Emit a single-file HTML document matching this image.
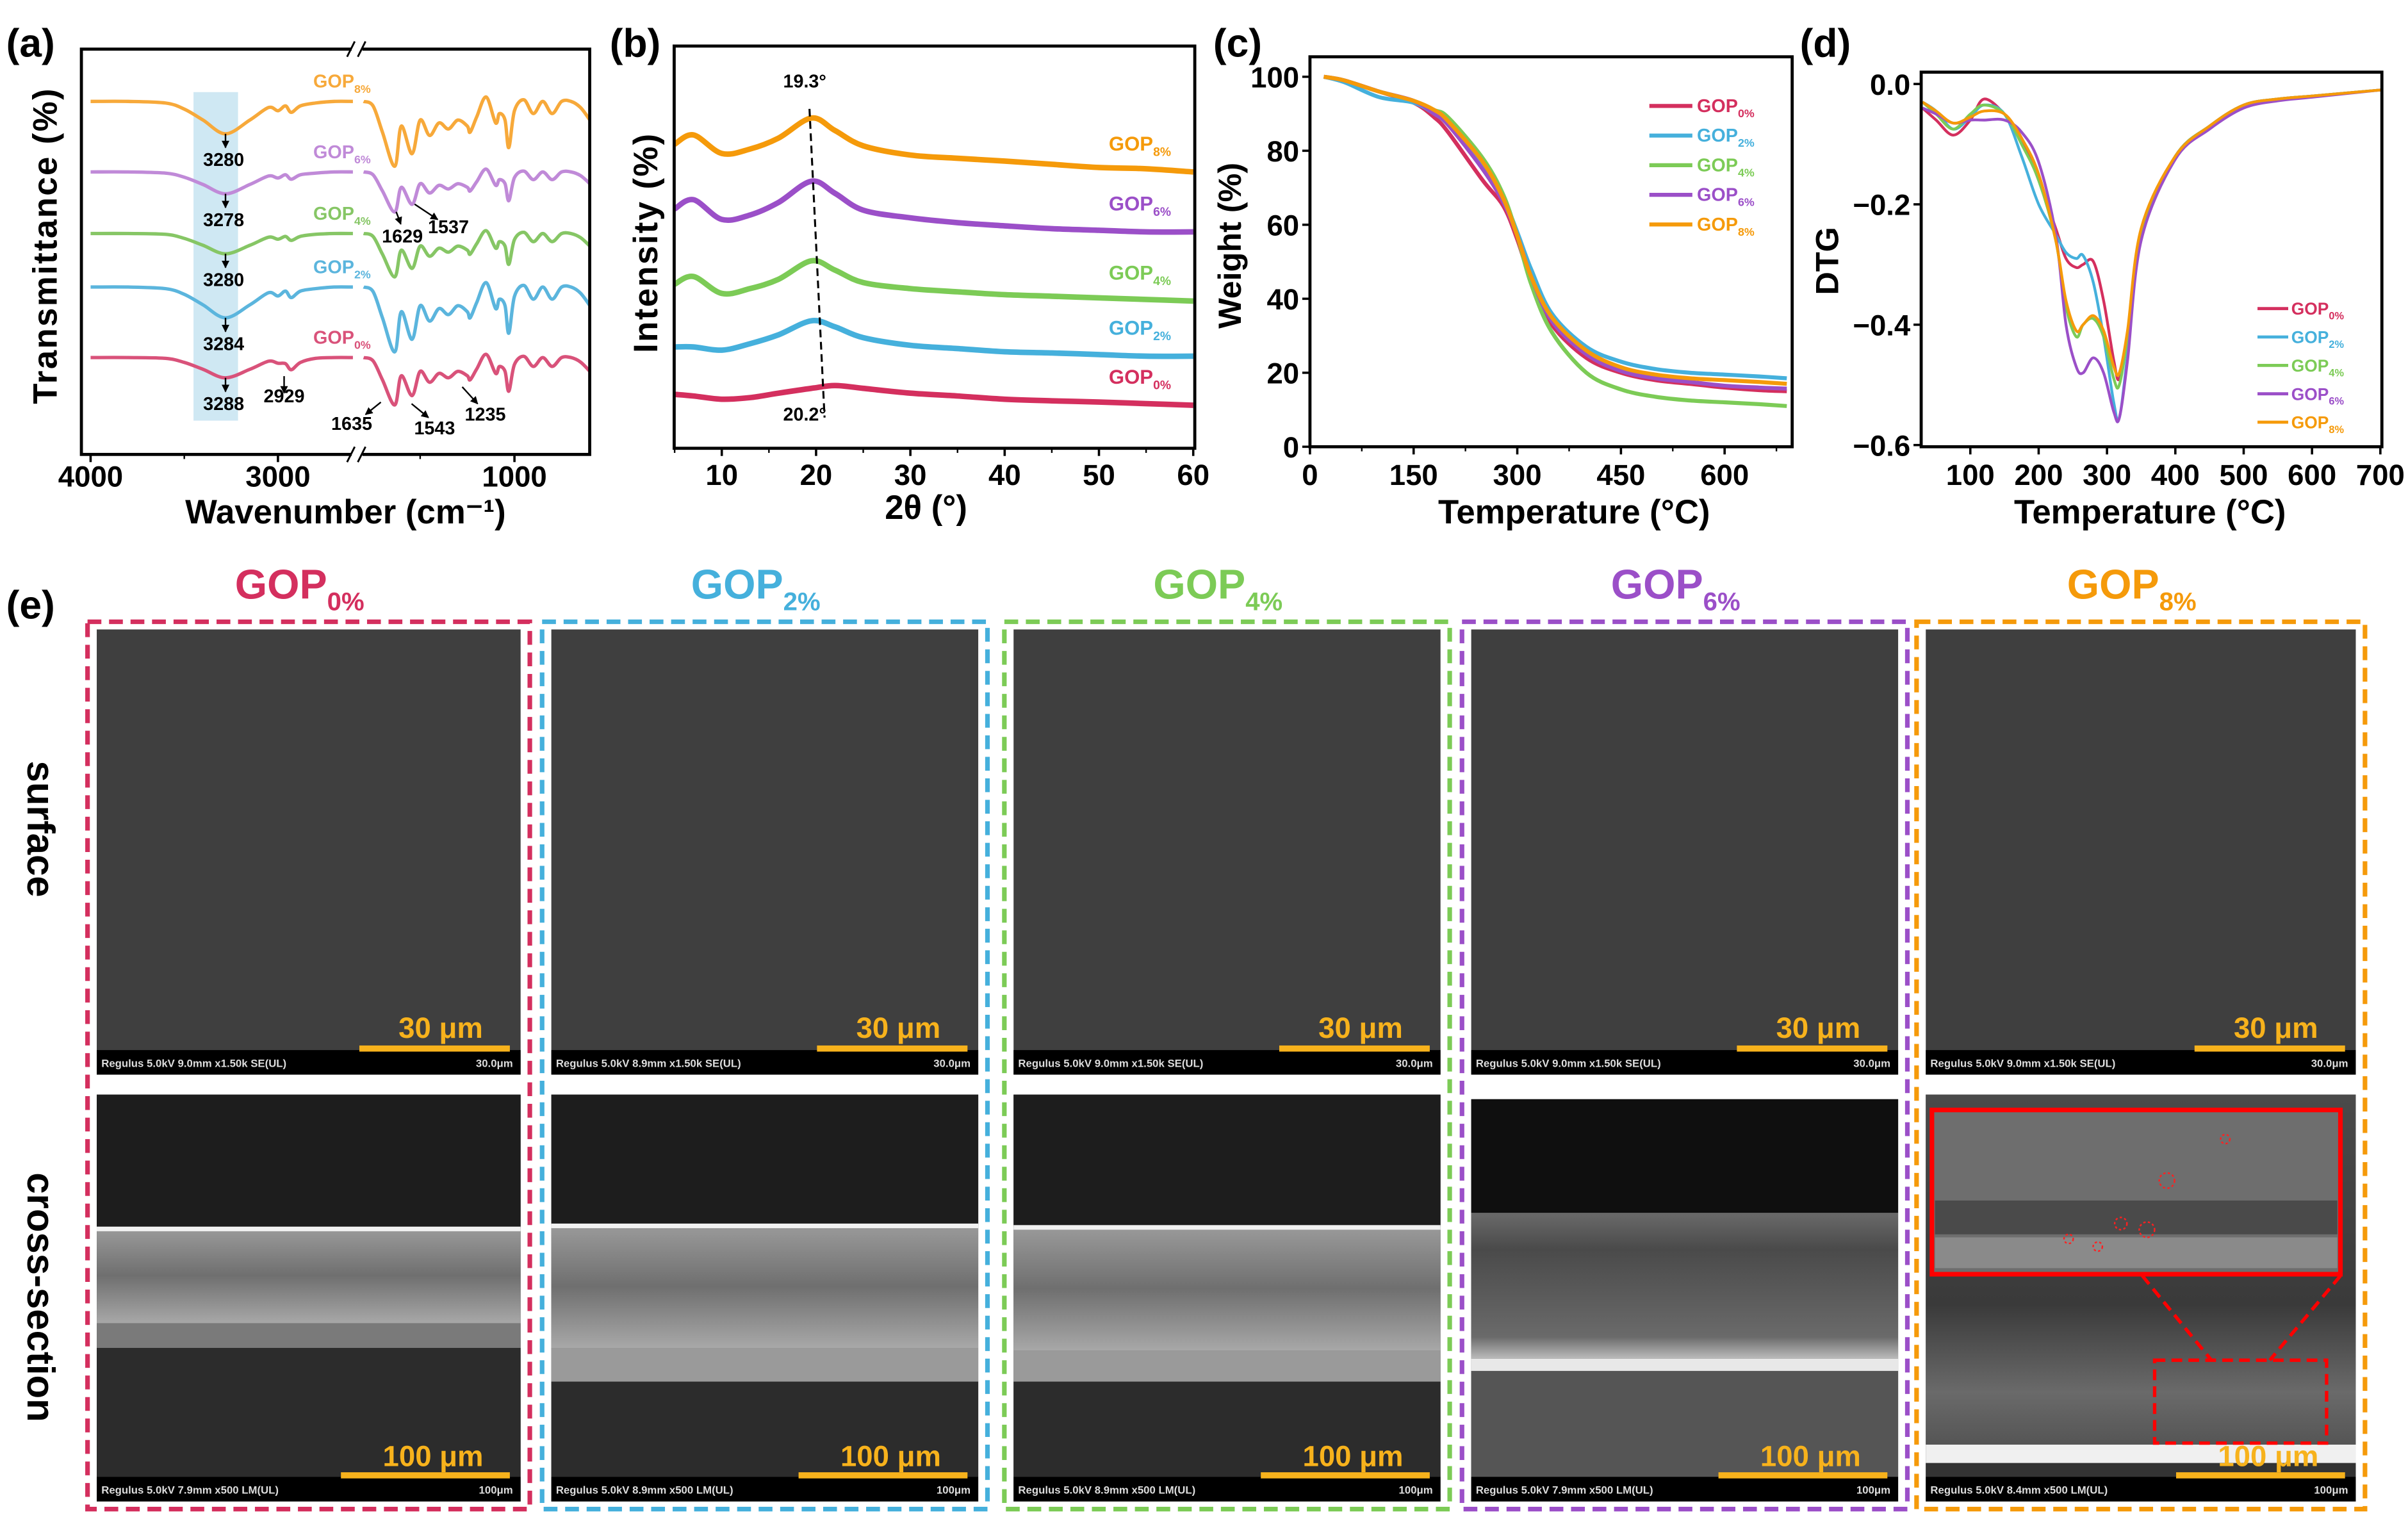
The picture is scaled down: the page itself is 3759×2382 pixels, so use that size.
<!DOCTYPE html>
<html><head><meta charset="utf-8">
<style>
html,body{margin:0;padding:0;background:#fff;}
svg{display:block;}
text{font-family:"Liberation Sans Narrow","Liberation Sans",sans-serif;font-weight:bold;}
</style></head>
<body>
<svg id="fig" xmlns="http://www.w3.org/2000/svg" width="3759" height="2382" viewBox="0 0 1568 994" preserveAspectRatio="none">
<defs>
<marker id="arr" viewBox="0 0 10 10" refX="9" refY="5" markerWidth="5" markerHeight="5" orient="auto"><path d="M0,0 L10,5 L0,10 z" fill="#000"/></marker>
<linearGradient id="film1" x1="0" y1="0" x2="0" y2="1"><stop offset="0" stop-color="#9a9a9a"/><stop offset="0.5" stop-color="#6f6f6f"/><stop offset="1" stop-color="#a8a8a8"/></linearGradient>
<linearGradient id="film4" x1="0" y1="0" x2="0" y2="1"><stop offset="0" stop-color="#6a6a6a"/><stop offset="0.25" stop-color="#4a4a4a"/><stop offset="0.85" stop-color="#6a6a6a"/><stop offset="1" stop-color="#bbbbbb"/></linearGradient>
<linearGradient id="film5" x1="0" y1="0" x2="0" y2="1"><stop offset="0" stop-color="#4a4a4a"/><stop offset="0.6" stop-color="#3a3a3a"/><stop offset="0.85" stop-color="#6a6a6a"/><stop offset="1" stop-color="#555"/></linearGradient>
</defs>
</svg>
<script>
// ---------- DATA ----------
const seriesNames = ["GOP0%","GOP2%","GOP4%","GOP6%","GOP8%"];
// FTIR (a)
const ftirLeftWn = [4000,3800,3600,3500,3400,3280,3150,3050,3000,2960,2929,2880,2800,2700,2600];
const ftirRightWn = [1800,1750,1700,1635,1600,1543,1500,1450,1400,1350,1300,1250,1235,1200,1150,1100,1080,1050,1030,1000,950,900,850,800,750,700,650,600];
const ftirOffsets = [23.9,41.3,54.5,69.7,87.1];
const ftirLeft0 = [0,0,0.2,1.2,2.9,5,2.9,0.9,1.4,1.5,3,1.2,0.2,0,0];
const ftirLeft2 = [0,0,0.4,1.8,4.4,7.6,4.4,1.4,2.2,1,2.6,1,0.4,0,0];
const ftirLeft4 = [0,0,0.2,1.2,2.9,5,2.9,0.9,1.4,0.7,1.7,0.7,0.2,0,0];
const ftirLeft6 = [0,0,0.3,1.3,3.1,5.4,3.1,1,1.5,0.7,1.8,0.7,0.3,0,0];
const ftirLeft8 = [0,0,0.4,1.9,4.6,8,4.6,1.5,2.3,1.1,2.7,1.1,0.4,0,0];
const ftirRight0 = [0,0.8,5.5,11.7,4.5,9.4,3.4,6.1,3.9,5,3.4,4.5,5.5,2.8,-0.8,3.9,2.2,3.4,8.3,1.7,-0.3,2.2,0,2.2,0,0,1.1,3.4];
const ftirRight2 = [0,1.1,7.6,16,6.1,12.9,4.6,8.4,5.3,6.8,4.6,6.1,7.6,3.8,-1.1,5.3,3,4.6,11.4,2.3,-0.4,3,0,3,0,0,1.5,4.6];
const ftirRight4 = [0,0.7,5.1,10.7,4.1,8.6,3.1,5.6,3.6,4.6,3.1,4.1,5.1,2.5,-0.7,3.6,2,3.1,7.6,1.5,-0.3,2,0,2,0,0,1,3.1];
const ftirRight6 = [0,0.7,4.7,9.9,3.8,8,2.9,5.2,3.3,4.2,2.9,3.8,4.7,2.4,-0.7,3.3,1.9,2.9,7.1,1.4,-0.2,1.9,0,1.9,0,0,0.9,2.9];
const ftirRight8 = [0,1.1,7.6,16,6.1,12.9,4.6,8.4,5.3,6.8,4.6,6.1,7.6,3.8,-1.1,5.3,3,4.6,11.4,2.3,-0.4,3,0,3,0,0,1.5,4.6];
const ftirPeakLabels = ["3288","3284","3280","3278","3280"];
const ftirTicks = ["4000","3000","1000"];
// XRD (b)
const xrdAngle = [5,7,10,13,16,19.5,22,25,30,35,40,45,50,55,60];
const xrd0 = [13.4,13.0,12.2,12.6,13.7,14.9,15.6,14.9,13.7,13.0,12.2,11.8,11.5,11.1,10.7];
const xrd2 = [25.2,25.2,24.4,26.0,28.2,31.7,30.2,27.5,25.6,24.8,24.0,23.7,23.3,22.9,22.9];
const xrd4 = [40.8,42.7,38.5,39.7,42.0,46.6,44.3,41.2,39.7,38.9,38.2,37.8,37.4,37.0,36.6];
const xrd6 = [59.5,61.8,56.9,58.0,61.1,66.4,63.4,59.2,57.3,56.1,55.3,54.6,54.2,53.8,53.8];
const xrd8 = [75.6,77.9,73.3,74.4,77.1,82.1,79.0,75.2,72.9,72.1,71.4,70.6,69.8,69.5,68.7];
const xrdTicks = [10,20,30,40,50,60];
// TGA (c)
const tgaTemp = [20,50,100,150,180,200,250,280,300,320,350,400,450,500,550,600,650,690];
const tga0 = [100,99,96,93,89,85,72,65,56,45,33,24,20,18,17,16,15.3,15];
const tga2 = [100,98.5,94.5,93,90,87,76,67,58,48,36,27,23,21,20,19.5,19,18.5];
const tga4 = [100,99,96,93.5,91,89,78,68,57,44,31,20,15.5,13.5,12.5,12,11.5,11];
const tga6 = [100,99,96,93.5,90,87,75,66,57,46,34,25,20.5,18.5,17.5,16.5,16,15.7];
const tga8 = [100,99,96,93.5,91,88,77,67,57,46,35,26,21.5,19.5,18.5,18,17.5,17];
const tgaXTicks = [0,150,300,450,600];
const tgaYTicks = [0,20,40,60,80,100];
// DTG (d)
const dtgTemp = [30,50,75,100,120,150,175,200,225,240,255,265,280,295,310,318,330,350,400,450,500,550,600,700];
const dtg0 = [-0.04,-0.06,-0.085,-0.06,-0.025,-0.05,-0.09,-0.16,-0.24,-0.29,-0.305,-0.30,-0.295,-0.36,-0.46,-0.49,-0.42,-0.25,-0.12,-0.07,-0.035,-0.025,-0.02,-0.01];
const dtg2 = [-0.03,-0.045,-0.075,-0.055,-0.035,-0.05,-0.12,-0.2,-0.25,-0.28,-0.29,-0.285,-0.33,-0.42,-0.53,-0.555,-0.45,-0.25,-0.12,-0.07,-0.035,-0.025,-0.02,-0.01];
const dtg4 = [-0.03,-0.05,-0.075,-0.05,-0.035,-0.05,-0.1,-0.16,-0.26,-0.37,-0.42,-0.40,-0.39,-0.42,-0.49,-0.5,-0.42,-0.25,-0.12,-0.07,-0.035,-0.025,-0.02,-0.01];
const dtg6 = [-0.04,-0.05,-0.065,-0.06,-0.06,-0.06,-0.08,-0.13,-0.25,-0.40,-0.47,-0.48,-0.455,-0.48,-0.545,-0.555,-0.46,-0.26,-0.125,-0.075,-0.04,-0.028,-0.022,-0.01];
const dtg8 = [-0.03,-0.045,-0.065,-0.055,-0.045,-0.05,-0.09,-0.15,-0.26,-0.36,-0.41,-0.40,-0.385,-0.41,-0.47,-0.48,-0.41,-0.24,-0.12,-0.07,-0.035,-0.025,-0.02,-0.01];
const dtgXTicks = [100,200,300,400,500,600,700];
const dtgYTicks = [0,-0.2,-0.4,-0.6];

// ---------- HELPERS ----------
const NS = "http://www.w3.org/2000/svg";
const svg = document.getElementById('fig');
function mk(tag, attrs, parent){ const e=document.createElementNS(NS,tag); for(const k in attrs) e.setAttribute(k,attrs[k]); (parent||svg).appendChild(e); return e; }
function txt(s,x,y,size,fill,anchor,parent){ const t=mk('text',{x:x,y:y,'font-size':size,fill:fill||'#000','text-anchor':anchor||'middle'},parent); t.textContent=s; return t; }
function smooth(pts){ let d='M'+pts[0][0].toFixed(2)+','+pts[0][1].toFixed(2);
  for(let i=0;i<pts.length-1;i++){ const p0=pts[Math.max(0,i-1)],p1=pts[i],p2=pts[i+1],p3=pts[Math.min(pts.length-1,i+2)];
    const c1=[p1[0]+(p2[0]-p0[0])/6,p1[1]+(p2[1]-p0[1])/6], c2=[p2[0]-(p3[0]-p1[0])/6,p2[1]-(p3[1]-p1[1])/6];
    d+=' C'+c1[0].toFixed(2)+','+c1[1].toFixed(2)+' '+c2[0].toFixed(2)+','+c2[1].toFixed(2)+' '+p2[0].toFixed(2)+','+p2[1].toFixed(2);} return d; }
function sublabel(base,sub,x,y,size,fill,parent){ const t=mk('text',{x:x,y:y,'font-size':size,fill:fill,'text-anchor':'start'},parent);
  const a=document.createElementNS(NS,'tspan'); a.textContent=base; t.appendChild(a);
  const b=document.createElementNS(NS,'tspan'); b.setAttribute('font-size',size*0.62); b.setAttribute('dy',size*0.28); b.textContent=sub; t.appendChild(b); return t; }

const colors = ["#d42f5e","#45b0dc","#7ccb56","#9b4fc8","#f59a0a"];
const ftirColors = ["#d9527a","#5bb5dd","#86c665","#c08ad8","#f7a93a"];
const subs = ["0%","2%","4%","6%","8%"];

// ---------- PANEL LABELS ----------
[["(a)",4,37],["(b)",397,37],["(c)",790,37],["(d)",1172,37],["(e)",4,403]].forEach(function(p){
  const t=txt(p[0],p[1],p[2],26,'#000','start');
  
  
});

// ---------- (a) FTIR ----------
(function(){
  const g=mk('g',{});
  
  
  const L=53,R=384,T=32,B=296;
  const xl=w=>59+(4000-w)*0.122, xr=w=>335+(1000-w)*0.1228, y=v=>B-v*2.64;
  const hl=mk('rect',{x:126,y:60,width:29,height:214,fill:'#cfe8f3'},g);
  
  
  const lefts=[ftirLeft0,ftirLeft2,ftirLeft4,ftirLeft6,ftirLeft8], rights=[ftirRight0,ftirRight2,ftirRight4,ftirRight6,ftirRight8];
  for(let s=0;s<5;s++){
    const pl=ftirLeftWn.map((w,i)=>[xl(w),y(ftirOffsets[s]-lefts[s][i])]);
    const pr=ftirRightWn.map((w,i)=>[xr(w),y(ftirOffsets[s]-rights[s][i])]);
    const a=mk('path',{d:smooth(pl),fill:'none',stroke:ftirColors[s],'stroke-width':2.2},g);
    
    
    const b=mk('path',{d:smooth(pr),fill:'none',stroke:ftirColors[s],'stroke-width':2.2},g);
    
    
    const dipY=y(ftirOffsets[s]-lefts[s][5]);
    const ar=mk('line',{x1:xl(3280),y1:dipY,x2:xl(3280),y2:dipY+9,stroke:'#000','stroke-width':1,'marker-end':'url(#arr)'},g);
    
    
    const pt=txt(ftirPeakLabels[s],xl(3290),dipY+21,12,'#000','middle',g);
    
    
    const gl=sublabel('GOP',subs[s],204,y(ftirOffsets[s])-9,12,ftirColors[s],g);
    
    
  }
  [["2929",185,262,185,245,185,256],["1635",229,280,248,262,238,270],["1543",283,283,268,263,279,272],["1235",316,274,301,252,311,263],["1629",262,158,258,138,261,146],["1537",292,152,270,133,285,143]].forEach(function(a){
    const l=mk('line',{x1:a[3],y1:a[4],x2:a[5],y2:a[6],stroke:'#000','stroke-width':1,'marker-end':'url(#arr)'},g);
    
    
    const t=txt(a[0],a[1],a[2],12,'#000','middle',g);
    
    
  });
  const fr=mk('rect',{x:L,y:T,width:R-L,height:B-T,fill:'none',stroke:'#000','stroke-width':2},g);
  
  
  [T,B].forEach(function(yy){
    const gap=mk('rect',{x:229,y:yy-3,width:7,height:6,fill:'#fff'},g);
    
    
    const m=mk('path',{d:'M226,'+(yy+5)+' L231,'+(yy-5)+' M233,'+(yy+5)+' L238,'+(yy-5),stroke:'#000','stroke-width':1.2,fill:'none'},g);
    
    
  });
  const tv=[4000,3000,1000];
  tv.forEach(function(w,i){
    const xx=w>2000?xl(w):xr(w);
    const tk=mk('line',{x1:xx,y1:B,x2:xx,y2:B+5,stroke:'#000','stroke-width':1.5},g);
    
    
    const t=txt(ftirTicks[i],xx,B+21,19,'#000','middle',g);
    
    
  });
  [3500,2500].forEach(function(w){ if(w>2574){ const m=mk('line',{x1:xl(w),y1:B,x2:xl(w),y2:B+3,stroke:'#000'},g);
    
    } });
  [1500,500].forEach(function(w){ const xx=xr(w); if(xx>238&&xx<R){ const m=mk('line',{x1:xx,y1:B,x2:xx,y2:B+3,stroke:'#000'},g);
    
    } });
  const xt=mk('text',{x:225,y:341,'font-size':22,'text-anchor':'middle'},g); xt.textContent='Wavenumber (cm⁻¹)';
  
  
  const yt=mk('text',{x:0,y:0,'font-size':22,'text-anchor':'middle',transform:'translate(37,160) rotate(-90)','font-family':'Liberation Sans,sans-serif','letter-spacing':'1'},g); yt.textContent='Transmittance (%)';
  
  
})();

// ---------- (b) XRD ----------
(function(){
  const g=mk('g',{});
  
  
  const L=439,R=778,T=30,B=292;
  const x=v=>470+(v-10)*6.14, y=v=>B-v*2.62;
  const sets=[xrd0,xrd2,xrd4,xrd6,xrd8];
  for(let s=0;s<5;s++){
    const p=mk('path',{d:smooth(xrdAngle.map((a,i)=>[x(a),y(sets[s][i])])),fill:'none',stroke:colors[s],'stroke-width':3.6,'stroke-linejoin':'round'},g);
    
    
    const gl=sublabel('GOP',subs[s],722,y(sets[s][14])-14,13,colors[s],g);
    
    
  }
  const dl=mk('line',{x1:x(19.3),y1:y(xrd8[5])-6,x2:x(20.9),y2:B-20,stroke:'#000','stroke-width':1.3,'stroke-dasharray':'5,3'},g);
  
  
  const t1=txt('19.3°',524,57,12,'#000','middle',g);
  
  
  const t2=txt('20.2°',524,274,12,'#000','middle',g);
  
  
  const fr=mk('rect',{x:L,y:T,width:R-L,height:B-T,fill:'none',stroke:'#000','stroke-width':2},g);
  
  
  xrdTicks.forEach(function(v){
    const tk=mk('line',{x1:x(v),y1:B,x2:x(v),y2:B+5,stroke:'#000','stroke-width':1.5},g);
    
    
    const t=txt(String(v),x(v),B+24,19,'#000','middle',g);
    
    
    const m=mk('line',{x1:x(v-5),y1:B,x2:x(v-5),y2:B+3,stroke:'#000'},g);
    
    
  });
  const xt=txt('2θ (°)',603,338,22,'#000','middle',g);
  
  
  const yt=mk('text',{x:0,y:0,'font-size':22,'text-anchor':'middle',transform:'translate(428,158) rotate(-90)','font-family':'Liberation Sans,sans-serif','letter-spacing':'1'},g); yt.textContent='Intensity (%)';
  
  
})();

// ---------- (c) TGA ----------
(function(){
  const g=mk('g',{});
  
  
  const L=853,R=1167,T=37,B=291;
  const x=v=>L+v*0.45, y=v=>B-v*2.41;
  const sets=[tga0,tga2,tga4,tga6,tga8];
  for(let s=0;s<5;s++){
    const p=mk('path',{d:smooth(tgaTemp.map((t,i)=>[x(t),y(sets[s][i])])),fill:'none',stroke:colors[s],'stroke-width':2.6},g);
    
    
    const ly=69+s*19.3;
    const ll=mk('line',{x1:1074,y1:ly,x2:1102,y2:ly,stroke:colors[s],'stroke-width':2.6},g);
    
    
    const lt=sublabel('GOP',subs[s],1105,ly+4,12,colors[s],g);
    
    
  }
  const fr=mk('rect',{x:L,y:T,width:R-L,height:B-T,fill:'none',stroke:'#000','stroke-width':2},g);
  
  
  tgaXTicks.forEach(function(v){
    const tk=mk('line',{x1:x(v),y1:B,x2:x(v),y2:B+5,stroke:'#000','stroke-width':1.5},g);
    
    
    const t=txt(String(v),x(v),B+25,19,'#000','middle',g);
    
    
    const m=mk('line',{x1:x(v+75),y1:B,x2:x(v+75),y2:B+3,stroke:'#000'},g);
    
    
  });
  tgaYTicks.forEach(function(v){
    const tk=mk('line',{x1:L-5,y1:y(v),x2:L,y2:y(v),stroke:'#000','stroke-width':1.5},g);
    
    
    const t=txt(String(v),L-7,y(v)+7,19,'#000','end',g);
    
    
  });
  const xt=txt('Temperature (°C)',1025,341,22,'#000','middle',g);
  
  
  const yt=mk('text',{x:0,y:0,'font-size':21,'text-anchor':'middle',transform:'translate(808,160) rotate(-90)'},g); yt.textContent='Weight (%)';
  
  
})();

// ---------- (d) DTG ----------
(function(){
  const g=mk('g',{});
  
  
  const L=1251,R=1551,T=47,B=291;
  const x=v=>1283+(v-100)*0.445, y=v=>54.7-v*392;
  const sets=[dtg0,dtg2,dtg4,dtg6,dtg8];
  for(let s=0;s<5;s++){
    const p=mk('path',{d:smooth(dtgTemp.map((t,i)=>[x(t),y(sets[s][i])])),fill:'none',stroke:colors[s],'stroke-width':1.8},g);
    
    
    const ly=201+s*18.5;
    const ll=mk('line',{x1:1470,y1:ly,x2:1490,y2:ly,stroke:colors[s],'stroke-width':2},g);
    
    
    const lt=sublabel('GOP',subs[s],1492,ly+4,11,colors[s],g);
    
    
  }
  const fr=mk('rect',{x:L,y:T,width:R-L,height:B-T,fill:'none',stroke:'#000','stroke-width':2},g);
  
  
  dtgXTicks.forEach(function(v){
    const tk=mk('line',{x1:x(v),y1:B,x2:x(v),y2:B+5,stroke:'#000','stroke-width':1.5},g);
    
    
    const t=txt(String(v),x(v),B+25,19,'#000','middle',g);
    
    
  });
  dtgYTicks.forEach(function(v){
    const tk=mk('line',{x1:L-5,y1:y(v),x2:L,y2:y(v),stroke:'#000','stroke-width':1.5},g);
    
    
    const t=txt(v===0?'0.0':v.toFixed(1).replace('-','−'),L-7,y(v)+7,19,'#000','end',g);
    
    
  });
  const xt=txt('Temperature (°C)',1400,341,22,'#000','middle',g);
  
  
  const yt=mk('text',{x:0,y:0,'font-size':21,'text-anchor':'middle',transform:'translate(1197,170) rotate(-90)','font-family':'Liberation Sans,sans-serif'},g); yt.textContent='DTG';
  
  
})();

// ---------- (e) SEM ----------
const semBoxX = [57,353,654,952,1248];
const semBoxW = [288,290,290,290,292];
const surfInfo = ["Regulus 5.0kV 9.0mm x1.50k SE(UL)","Regulus 5.0kV 8.9mm x1.50k SE(UL)","Regulus 5.0kV 9.0mm x1.50k SE(UL)","Regulus 5.0kV 9.0mm x1.50k SE(UL)","Regulus 5.0kV 9.0mm x1.50k SE(UL)"];
const crossInfo = ["Regulus 5.0kV 7.9mm x500 LM(UL)","Regulus 5.0kV 8.9mm x500 LM(UL)","Regulus 5.0kV 8.9mm x500 LM(UL)","Regulus 5.0kV 7.9mm x500 LM(UL)","Regulus 5.0kV 8.4mm x500 LM(UL)"];
(function(){
  const rs=txt('surface',0,0,25,'#000','middle'); rs.setAttribute('transform','translate(18,540) rotate(90)'); rs.setAttribute('font-family','Liberation Sans,sans-serif');
  
  
  const rc=txt('cross-section',0,0,25,'#000','middle'); rc.setAttribute('transform','translate(18,845) rotate(90)'); rc.setAttribute('font-family','Liberation Sans,sans-serif');
  
  
  for(let s=0;s<5;s++){
    const g=mk('g',{});
    
    
    const bx=semBoxX[s], bw=semBoxW[s], ix=bx+6, iw=bw-12;
    const title=sublabel('GOP',subs[s],bx+bw/2-48,390,27,colors[s],g);
    title.setAttribute('font-family','Liberation Sans,sans-serif');
    
    
    // surface
    const si=mk('rect',{x:ix,y:410,width:iw,height:290,fill:'#3f3f3f'},g);
    
    
    const sb=mk('rect',{x:ix,y:684,width:iw,height:16,fill:'#000'},g);
    
    
    const st=txt(surfInfo[s],ix+3,695,7,'#ddd','start',g); st.setAttribute('font-family','Liberation Sans,sans-serif'); st.setAttribute('font-weight','normal');
    
    
    const st2=txt('30.0μm',ix+iw-5,695,7,'#ddd','end',g); st2.setAttribute('font-weight','normal');
    
    
    const sbar=mk('rect',{x:ix+iw-105,y:681,width:98,height:4,fill:'#f7b21c'},g);
    
    
    const sl=txt('30 μm',ix+iw-52,676,19,'#f7b21c','middle',g); sl.setAttribute('font-family','Liberation Sans,sans-serif');
    
    
    // cross-section
    const cy=(s===3)?716:713, ch=978-cy;
    const ci=mk('rect',{x:ix,y:cy,width:iw,height:ch,fill:'#2a2a2a'},g);
    
    
    let layers;
    if(s<3){ const top=[800,798,799][s], fb=[862,878,880][s];
      layers=[[cy,top-cy,'#1d1d1d'],[top,fb-top,'url(#film1)'],[fb,[16,22,20][s],s===0?'#7a7a7a':'#9a9a9a'],[fb+[16,22,20][s],962-fb-[16,22,20][s],'#2c2c2c'],[top-1,3,'#f2f2f2']];
    } else if(s===3){
      layers=[[cy,74,'#0f0f0f'],[790,95,'url(#film4)'],[885,8,'#e8e8e8'],[893,69,'#555']];
    } else {
      layers=[[cy,228,'url(#film5)'],[941,12,'#f0f0f0'],[953,9,'#333']];
    }
    layers.forEach(function(l){ const r=mk('rect',{x:ix,y:l[0],width:iw,height:l[1],fill:l[2]},g);
      
       });
    if(s===4){
      const ins=mk('rect',{x:1258,y:723,width:266,height:107,fill:'#6e6e6e',stroke:'#ff0000','stroke-width':3},g);
      
      
      const band=mk('rect',{x:1260,y:782,width:262,height:22,fill:'#4a4a4a'},g);
      
      
      const band2=mk('rect',{x:1260,y:806,width:262,height:20,fill:'#8a8a8a'},g);
      
      
      [[1449,742,3],[1411,769,5],[1381,797,4],[1398,801,5],[1347,807,3],[1366,812,3]].forEach(function(c){
        const cc=mk('circle',{cx:c[0],cy:c[1],r:c[2],fill:'none',stroke:'#ff2020','stroke-width':1,'stroke-dasharray':'1.5,1.5'},g);
        
        
      });
      const dr=mk('rect',{x:1403,y:886,width:112,height:54,fill:'none',stroke:'#ff0000','stroke-width':2.2,'stroke-dasharray':'7,4'},g);
      
      
      const z1=mk('line',{x1:1395,y1:831,x2:1440,y2:886,stroke:'#ff0000','stroke-width':2.2,'stroke-dasharray':'7,4'},g);
      
      
      const z2=mk('line',{x1:1524,y1:831,x2:1478,y2:886,stroke:'#ff0000','stroke-width':2.2,'stroke-dasharray':'7,4'},g);
      
      
    }
    const cb=mk('rect',{x:ix,y:962,width:iw,height:16,fill:'#000'},g);
    
    
    const ct=txt(crossInfo[s],ix+3,973,7,'#ddd','start',g); ct.setAttribute('font-family','Liberation Sans,sans-serif'); ct.setAttribute('font-weight','normal');
    
    
    const ct2=txt('100μm',ix+iw-5,973,7,'#ddd','end',g); ct2.setAttribute('font-weight','normal');
    
    
    const cbar=mk('rect',{x:ix+iw-117,y:959,width:110,height:4,fill:'#f7b21c'},g);
    
    
    const cl=txt('100 μm',ix+iw-57,955,19,'#f7b21c','middle',g); cl.setAttribute('font-family','Liberation Sans,sans-serif');
    
    
    const box=mk('rect',{x:bx,y:405,width:bw,height:578,fill:'none',stroke:colors[s],'stroke-width':3,'stroke-dasharray':'9,5'},g);
    
    
  }
})();
</script>
</body></html>
